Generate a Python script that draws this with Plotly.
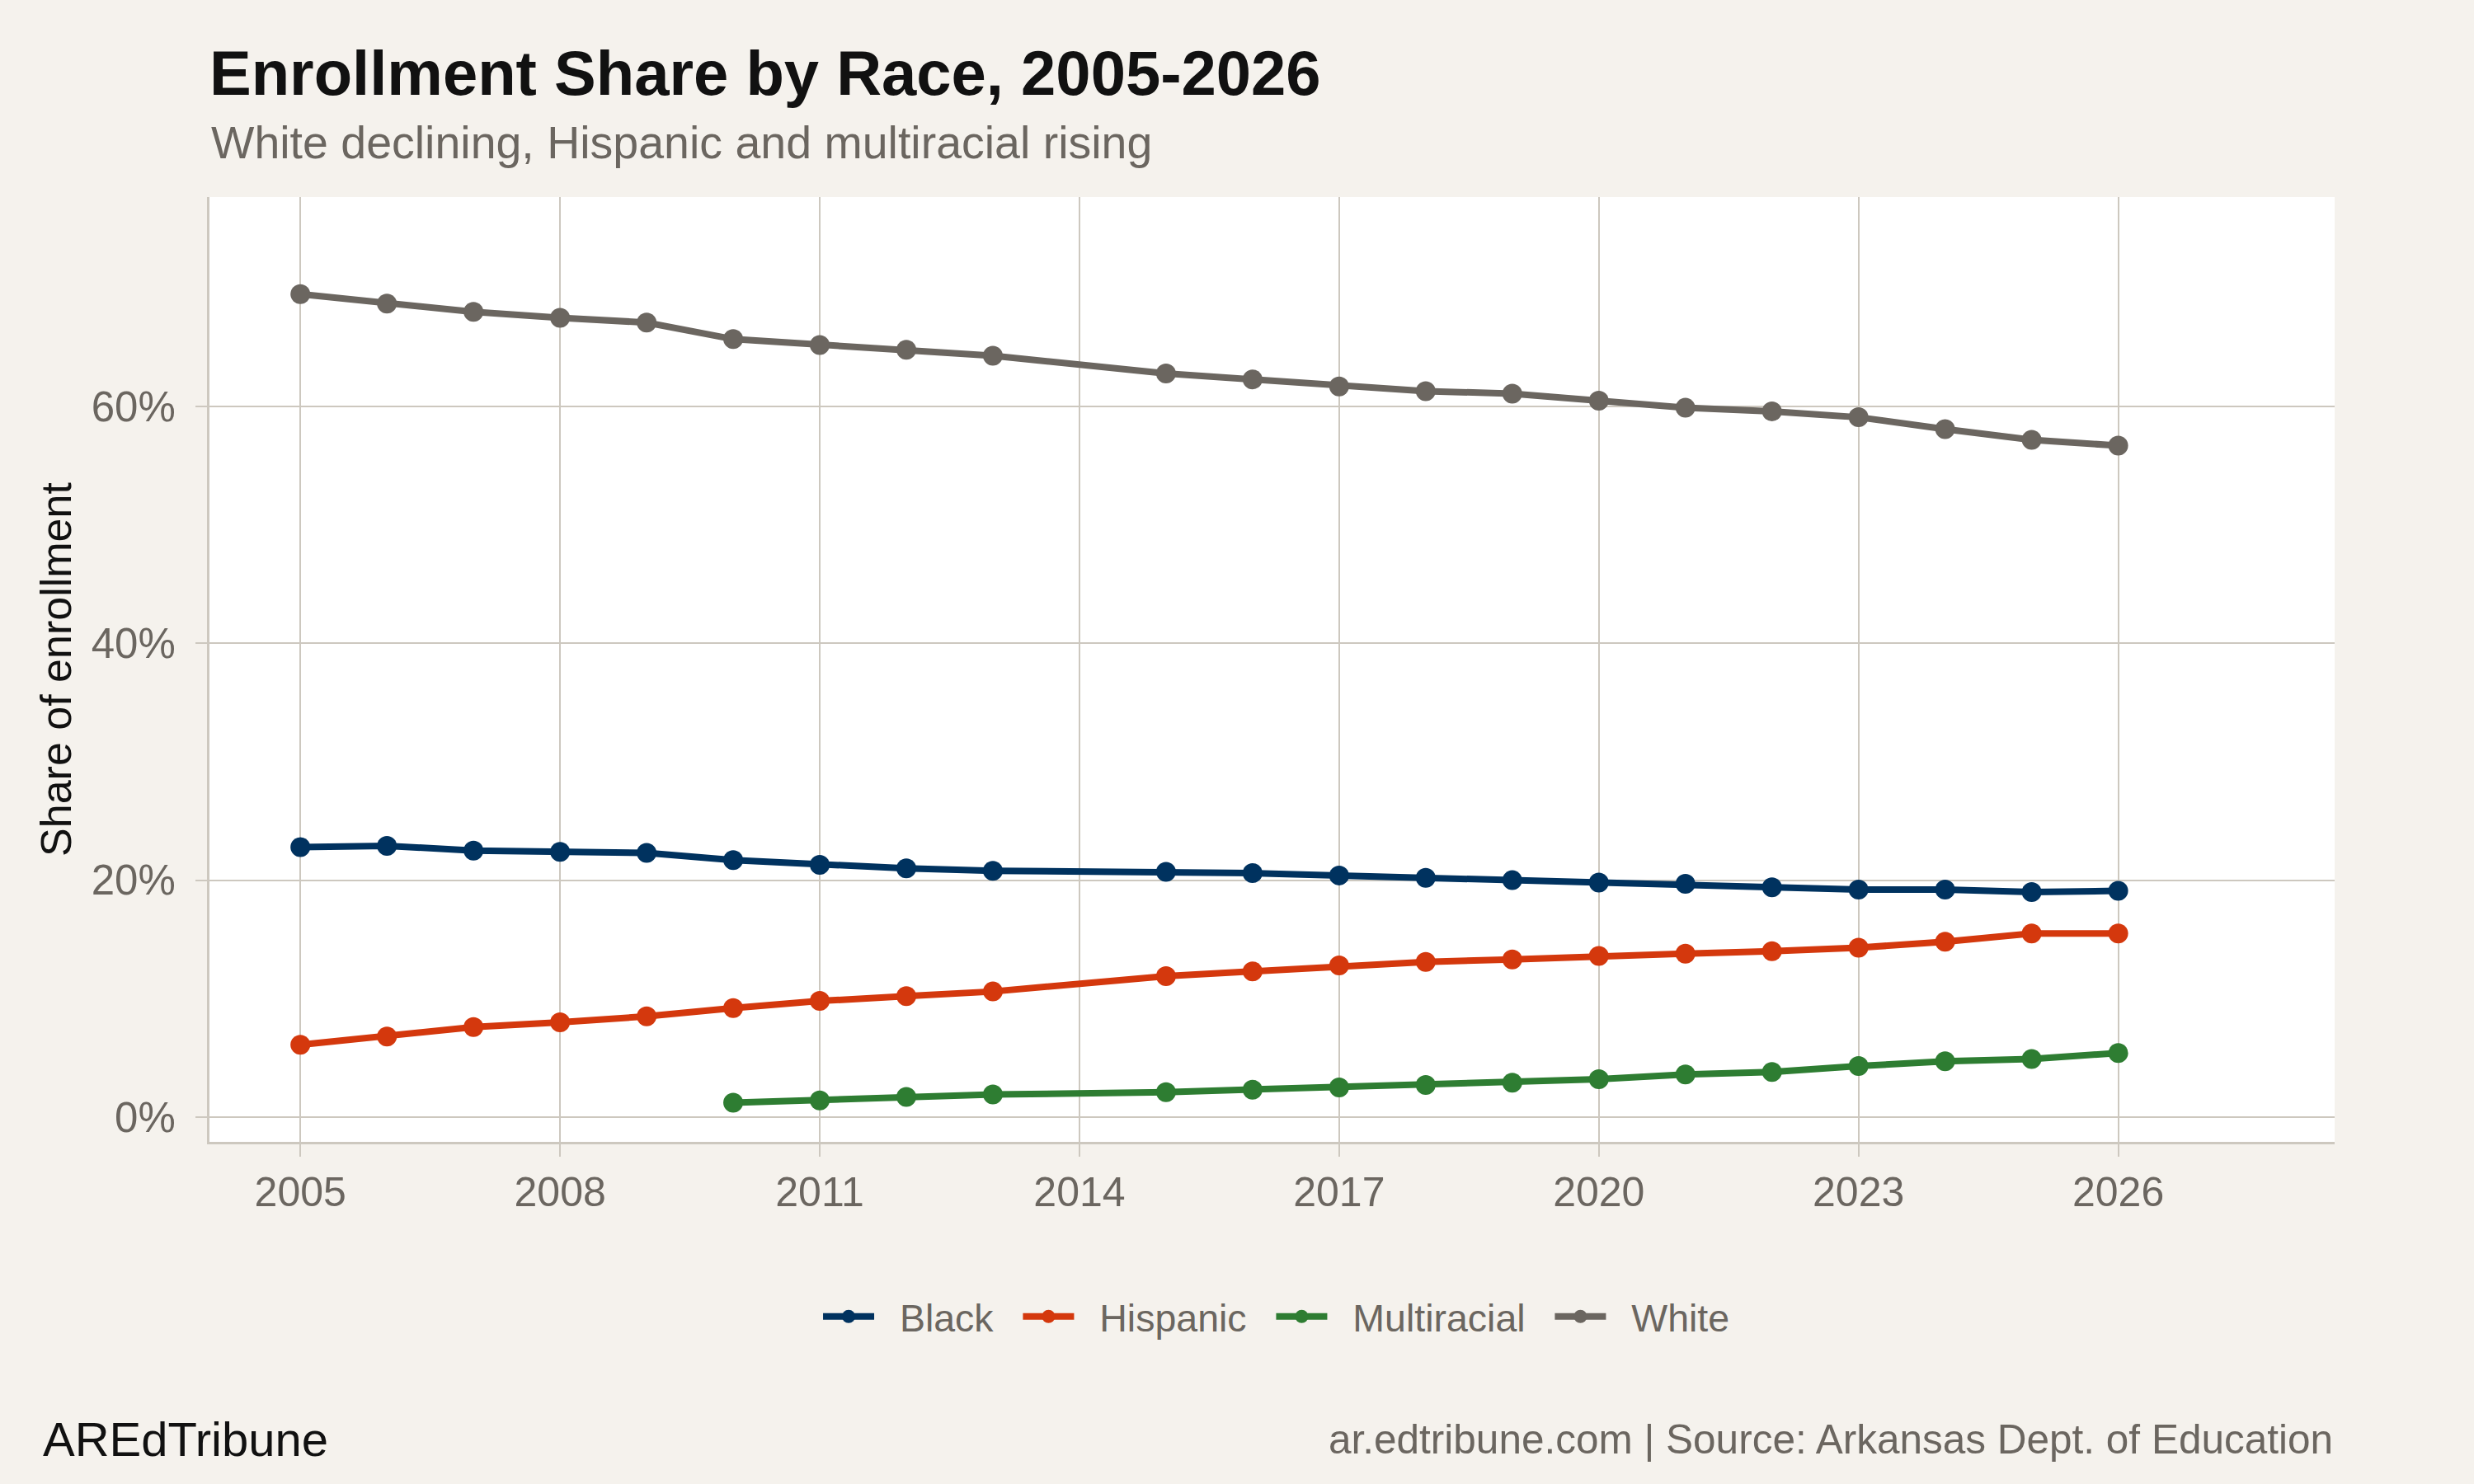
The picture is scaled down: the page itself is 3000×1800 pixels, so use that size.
import plotly.graph_objects as go

# anos (2014 nao aparece nos dados)
anos = [2005, 2006, 2007, 2008, 2009, 2010, 2011, 2012, 2013, 2015, 2016,
        2017, 2018, 2019, 2020, 2021, 2022, 2023, 2024, 2025, 2026]

branco = [69.5, 68.7, 68.0, 67.5, 67.1, 65.7, 65.2, 64.8, 64.3, 62.8, 62.3,
          61.7, 61.3, 61.1, 60.5, 59.9, 59.6, 59.1, 58.1, 57.2, 56.7]
negro = [22.8, 22.9, 22.5, 22.4, 22.3, 21.7, 21.3, 21.0, 20.8, 20.7, 20.6,
         20.4, 20.2, 20.0, 19.8, 19.7, 19.4, 19.2, 19.2, 19.0, 19.1]
hispanico = [6.1, 6.8, 7.6, 8.0, 8.5, 9.2, 9.8, 10.2, 10.6, 11.9, 12.3,
             12.8, 13.1, 13.3, 13.6, 13.8, 14.0, 14.3, 14.8, 15.5, 15.5]

# multirracial comeca em 2010
anos_multi = [2010, 2011, 2012, 2013, 2015, 2016, 2017, 2018, 2019, 2020,
              2021, 2022, 2023, 2024, 2025, 2026]
multi = [1.2, 1.4, 1.7, 1.9, 2.1, 2.3, 2.5, 2.7, 2.9, 3.2,
         3.6, 3.8, 4.3, 4.7, 4.9, 5.4]

ticks_x = [2005, 2008, 2011, 2014, 2017, 2020, 2023, 2026]
ticks_y = [0, 20, 40, 60]
rotulos_y = ["0%", "20%", "40%", "60%"]

fonte = "Liberation Sans, Arial, Helvetica, sans-serif"
cinza = "#6b6660"
grade = "#cdc8bf"
esp = "\u00a0"

series = [
    ("Black", anos, negro, "#00325f"),
    ("Hispanic", anos, hispanico, "#d4380d"),
    ("Multiracial", anos_multi, multi, "#2e7d32"),
    ("White", anos, branco, "#6b6660"),
]

fig = go.Figure()
for nome, x, y, cor in series:
    # espacos na legenda para afastar o texto do simbolo
    fig.add_trace(go.Scatter(
        x=x, y=y, name=esp * 2 + nome + esp * 2, mode="lines+markers",
        line=dict(color=cor, width=8),
        marker=dict(color=cor, size=24),
    ))

fig.update_layout(
    width=3000, height=1800,
    paper_bgcolor="#f5f2ed", plot_bgcolor="#ffffff",
    font=dict(family=fonte, color=cinza),
    margin=dict(l=254, r=169, t=239, b=415),
    title=dict(text="<b>Enrollment Share by Race, 2005-2026</b>",
               x=254 / 3000, xanchor="left", xref="container",
               y=1 - 88 / 1800, yanchor="middle", yref="container",
               font=dict(size=76, color="#111111", family=fonte)),
    legend=dict(orientation="h", x=0.507, xanchor="center", y=-0.185,
                yanchor="middle", font=dict(size=46.5, color=cinza),
                itemwidth=62, bgcolor="rgba(0,0,0,0)"),
    showlegend=True,
)

fig.update_xaxes(
    range=[2003.95, 2028.5], tickvals=ticks_x,
    showgrid=True, gridcolor=grade, gridwidth=2,
    showline=True, linecolor=grade, linewidth=3,
    ticks="outside", ticklen=15, tickwidth=2, tickcolor=grade,
    tickfont=dict(size=50, color=cinza), zeroline=False,
)
fig.update_yaxes(
    range=[-2.1, 77.7], tickvals=ticks_y, ticktext=rotulos_y,
    showgrid=True, gridcolor=grade, gridwidth=2,
    showline=True, linecolor=grade, linewidth=3,
    ticks="outside", ticklen=14, tickwidth=2, tickcolor=grade,
    ticklabelstandoff=14,
    tickfont=dict(size=51, color=cinza), zeroline=False,
)

fig.add_annotation(text="White declining, Hispanic and multiracial rising",
                   xref="paper", yref="paper", x=0, y=1.0576,
                   xanchor="left", yanchor="middle", showarrow=False,
                   font=dict(size=55.5, color=cinza))
fig.add_annotation(text="Share of enrollment", textangle=-90,
                   xref="paper", yref="paper", x=-0.0722, y=0.5,
                   xanchor="center", yanchor="middle", showarrow=False,
                   font=dict(size=52, color="#111111"))
fig.add_annotation(text="AREdTribune",
                   xref="paper", yref="paper", x=(50 - 254) / 2577, y=-0.315,
                   xanchor="left", yanchor="middle", showarrow=False,
                   font=dict(size=58, color="#111111"))
fig.add_annotation(text="ar.edtribune.com | Source: Arkansas Dept. of Education",
                   xref="paper", yref="paper", x=1, y=-0.315,
                   xanchor="right", yanchor="middle", showarrow=False,
                   font=dict(size=49.5, color=cinza))

# tira a margem padrao da pagina
fig.write_html("out.html", config={"displayModeBar": False},
               post_script="document.body.style.margin='0';document.body.style.overflow='hidden';")
